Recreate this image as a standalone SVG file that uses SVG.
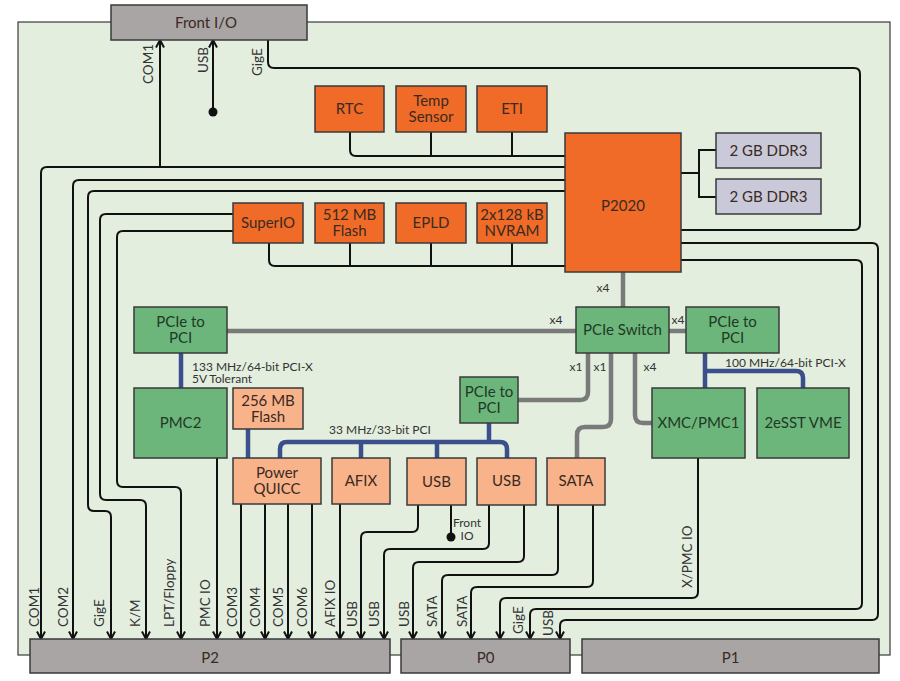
<svg xmlns="http://www.w3.org/2000/svg" width="900" height="681" viewBox="0 0 900 681">
<defs>
<style>
.bx{stroke:#3a3a3a;stroke-width:1.5}
.or{fill:#ef6b27}
.lo{fill:#f8b38b}
.gr{fill:#6cb57b}
.dd{fill:#c9c9d9}
.gy{fill:#a9a5a5}
.t{font-family:Lato,"Open Sans","Liberation Sans",sans-serif;font-size:15px;fill:#3a2a22;text-anchor:middle}
.tg{fill:#1f3a25}
.s{font-family:Lato,"Open Sans","Liberation Sans",sans-serif;font-size:13.5px;fill:#333}
.m{font-size:12px}
.w{fill:none;stroke:#111;stroke-width:2}
.p{fill:none;stroke:#7a7a7a;stroke-width:4.5}
.b{fill:none;stroke:#3b4f8c;stroke-width:4.5}
</style>
<marker id="arr" viewBox="0 0 10 10" refX="9" refY="5" markerWidth="10" markerHeight="10" markerUnits="userSpaceOnUse" orient="auto">
<path d="M1.5,1 L9,5 L1.5,9" fill="none" stroke="#111" stroke-width="2"/>
</marker>
</defs>
<rect x="0" y="0" width="900" height="681" fill="#ffffff"/>
<rect x="18" y="22" width="872" height="633" fill="#e3eedf" stroke="#3a3a3a" stroke-width="1.2"/>

<g id="connectors">
<path class="w" d="M565,167 H47 Q41,167 41,173 V639" marker-end="url(#arr)"/>
<path class="w" d="M160,167 V40" marker-end="url(#arr)"/>
<path class="w" d="M213,112 V40" marker-end="url(#arr)"/>
<circle cx="213" cy="112" r="4.5" fill="#111"/>
<path class="w" d="M268,40 V62 Q268,68 274,68 H854 Q860,68 860,74 V224 Q860,230 854,230 H681"/>
<path class="w" d="M565,180 H79 Q73,180 73,186 V639" marker-end="url(#arr)"/>
<path class="w" d="M565,191 H94 Q88,191 88,197 V505 Q88,511 94,511 H105 Q111,511 111,517 V639" marker-end="url(#arr)"/>
<path class="w" d="M233,214 H106 Q100,214 100,220 V494 Q100,500 106,500 H140 Q146,500 146,506 V639" marker-end="url(#arr)"/>
<path class="w" d="M233,231 H123 Q117,231 117,237 V481 Q117,487 123,487 H175 Q181,487 181,493 V639" marker-end="url(#arr)"/>
<path class="w" d="M217,458 V639" marker-end="url(#arr)"/>
<path class="w" d="M241,504 V639" marker-end="url(#arr)"/>
<path class="w" d="M265,504 V639" marker-end="url(#arr)"/>
<path class="w" d="M288,504 V639" marker-end="url(#arr)"/>
<path class="w" d="M312,504 V639" marker-end="url(#arr)"/>
<path class="w" d="M340,504 V639" marker-end="url(#arr)"/>
<path class="w" d="M418,505 V526 Q418,532 412,532 H367 Q361,532 361,538 V639" marker-end="url(#arr)"/>
<path class="w" d="M451,505 V537"/>
<circle cx="451" cy="537" r="4.5" fill="#111"/>
<path class="w" d="M489,505 V543 Q489,549 483,549 H390 Q384,549 384,555 V639" marker-end="url(#arr)"/>
<path class="w" d="M524,505 V556 Q524,562 518,562 H419 Q413,562 413,568 V639" marker-end="url(#arr)"/>
<path class="w" d="M558,505 V569 Q558,575 552,575 H448 Q442,575 442,581 V639" marker-end="url(#arr)"/>
<path class="w" d="M593,505 V581 Q593,587 587,587 H477 Q471,587 471,593 V639" marker-end="url(#arr)"/>
<path class="w" d="M698,458 V592 Q698,598 692,598 H506 Q500,598 500,604 V639" marker-end="url(#arr)"/>
<path class="w" d="M681,260 H856 Q862,260 862,266 V603 Q862,609 856,609 H536 Q530,609 530,615 V639" marker-end="url(#arr)"/>
<path class="w" d="M681,243 H872 Q878,243 878,249 V614 Q878,620 872,620 H566 Q560,620 560,626 V639" marker-end="url(#arr)"/>
<path class="w" d="M350,132 V150 Q350,156 356,156 H565 M431,132 V156 M512,132 V156"/>
<path class="w" d="M269,243 V260 Q269,266 275,266 H565 M350,243 V266 M431,243 V266 M512,243 V266"/>
<path class="w" d="M681,173 H699 M716,150 H699 V197 H716"/>
<path class="p" d="M623,272 V307"/>
<path class="p" d="M227,331 H576"/>
<path class="p" d="M669,331 H686"/>
<path class="p" d="M588,353 V392 Q588,400 580,400 H518"/>
<path class="p" d="M611,353 V419 Q611,427 603,427 H585 Q577,427 577,435 V458"/>
<path class="p" d="M635,353 V415 Q635,423 643,423 H652"/>
<path class="b" d="M181,353 V388"/>
<path class="b" d="M248,429 V458"/>
<path class="b" d="M280,458 V449 Q280,442 287,442 H500 Q507,442 507,449 V458 M361,442 V458 M437,442 V458 M489,423 V442"/>
<path class="b" d="M705,353 V388 M705,371 H796 Q803,371 803,378 V388"/>
</g>

<g id="labels" class="s">
<text transform="translate(153,84) rotate(-90)">COM1</text>
<text transform="translate(208,73) rotate(-90)">USB</text>
<text transform="translate(262,76) rotate(-90)">GigE</text>
<text class="m" x="603" y="292" text-anchor="middle">x4</text>
<text class="m" x="556" y="324" text-anchor="middle">x4</text>
<text class="m" x="678" y="324" text-anchor="middle">x4</text>
<text class="m" x="576" y="371" text-anchor="middle">x1</text>
<text class="m" x="600" y="371" text-anchor="middle">x1</text>
<text class="m" x="650" y="371" text-anchor="middle">x4</text>
<text class="m" x="192" y="371">133 MHz/64-bit PCI-X<tspan x="192" dy="12">5V Tolerant</tspan></text>
<text class="m" x="329" y="434">33 MHz/33-bit PCI</text>
<text class="m" x="725" y="367">100 MHz/64-bit PCI-X</text>
<text class="m" x="467" y="527" text-anchor="middle">Front<tspan x="467" dy="13">IO</tspan></text>
<text transform="translate(692,588) rotate(-90)">X/PMC IO</text>
<text transform="translate(39,627) rotate(-90)">COM1</text>
<text transform="translate(68,627) rotate(-90)">COM2</text>
<text transform="translate(104,627) rotate(-90)">GigE</text>
<text transform="translate(140,627) rotate(-90)">K/M</text>
<text transform="translate(174,627) rotate(-90)">LPT/Floppy</text>
<text transform="translate(210,627) rotate(-90)">PMC IO</text>
<text transform="translate(237,627) rotate(-90)">COM3</text>
<text transform="translate(260,627) rotate(-90)">COM4</text>
<text transform="translate(283,627) rotate(-90)">COM5</text>
<text transform="translate(307,627) rotate(-90)">COM6</text>
<text transform="translate(335,627) rotate(-90)">AFIX IO</text>
<text transform="translate(357,627) rotate(-90)">USB</text>
<text transform="translate(379,627) rotate(-90)">USB</text>
<text transform="translate(409,627) rotate(-90)">USB</text>
<text transform="translate(437,627) rotate(-90)">SATA</text>
<text transform="translate(467,627) rotate(-90)">SATA</text>
<text transform="translate(523,634) rotate(-90)">GigE</text>
<text transform="translate(553,636) rotate(-90)">USB</text>
</g>

<g id="front-io"><rect class="bx gy" x="111" y="5" width="196" height="35"/><text class="t" x="206" y="28">Front I/O</text></g>
<g id="rtc"><rect class="bx or" x="315" y="86" width="69" height="46"/><text class="t" x="349.5" y="114">RTC</text></g>
<g id="temp"><rect class="bx or" x="396" y="86" width="70" height="46"/><text class="t" x="431" y="106">Temp<tspan x="431" dy="16">Sensor</tspan></text></g>
<g id="eti"><rect class="bx or" x="477" y="86" width="70" height="46"/><text class="t" x="512" y="114">ETI</text></g>
<g id="superio"><rect class="bx or" x="233" y="203" width="70" height="40"/><text class="t" x="268" y="228">SuperIO</text></g>
<g id="flash512"><rect class="bx or" x="315" y="203" width="69" height="40"/><text class="t" x="349.5" y="220">512 MB<tspan x="349.5" dy="16">Flash</tspan></text></g>
<g id="epld"><rect class="bx or" x="396" y="203" width="70" height="40"/><text class="t" x="431" y="228">EPLD</text></g>
<g id="nvram"><rect class="bx or" x="477" y="203" width="70" height="40"/><text class="t" x="512" y="220">2x128 kB<tspan x="512" dy="16">NVRAM</tspan></text></g>
<g id="p2020"><rect class="bx or" x="565" y="133" width="116" height="139"/><text class="t" x="623" y="211" font-size="16">P2020</text></g>
<g id="ddr3a"><rect class="bx dd" x="716" y="133" width="105" height="35"/><text class="t" x="768.5" y="156">2 GB DDR3</text></g>
<g id="ddr3b"><rect class="bx dd" x="716" y="179" width="105" height="35"/><text class="t" x="768.5" y="202">2 GB DDR3</text></g>
<g id="pcie-pci-left"><rect class="bx gr" x="134" y="307" width="93" height="46"/><text class="t tg" x="180.5" y="327">PCIe to<tspan x="180.5" dy="16">PCI</tspan></text></g>
<g id="pcie-switch"><rect class="bx gr" x="576" y="307" width="93" height="46"/><text class="t tg" x="622.5" y="335">PCIe Switch</text></g>
<g id="pcie-pci-right"><rect class="bx gr" x="686" y="307" width="93" height="46"/><text class="t tg" x="732.5" y="327">PCIe to<tspan x="732.5" dy="16">PCI</tspan></text></g>
<g id="pmc2"><rect class="bx gr" x="134" y="388" width="93" height="70"/><text class="t tg" x="180.5" y="428">PMC2</text></g>
<g id="flash256"><rect class="bx lo" x="233" y="388" width="70" height="41"/><text class="t" x="268" y="406">256 MB<tspan x="268" dy="16">Flash</tspan></text></g>
<g id="pcie-pci-mid"><rect class="bx gr" x="460" y="377" width="58" height="46"/><text class="t tg" x="489" y="397">PCIe to<tspan x="489" dy="16">PCI</tspan></text></g>
<g id="xmc"><rect class="bx gr" x="652" y="388" width="93" height="70"/><text class="t tg" x="698.5" y="428">XMC/PMC1</text></g>
<g id="vme"><rect class="bx gr" x="757" y="388" width="92" height="70"/><text class="t tg" x="803" y="428">2eSST VME</text></g>
<g id="powerquicc"><rect class="bx lo" x="233" y="458" width="88" height="46"/><text class="t" x="277" y="478">Power<tspan x="277" dy="16">QUICC</tspan></text></g>
<g id="afix"><rect class="bx lo" x="332" y="458" width="58" height="46"/><text class="t" x="361" y="486">AFIX</text></g>
<g id="usb1"><rect class="bx lo" x="407" y="458" width="59" height="47"/><text class="t" x="436.5" y="487">USB</text></g>
<g id="usb2"><rect class="bx lo" x="477" y="458" width="59" height="47"/><text class="t" x="506.5" y="486">USB</text></g>
<g id="sata"><rect class="bx lo" x="547" y="458" width="58" height="47"/><text class="t" x="576" y="486">SATA</text></g>
<g id="p2"><rect class="bx gy" x="30" y="639" width="360" height="34"/><text class="t" x="210" y="663" font-size="20">P2</text></g>
<g id="p0"><rect class="bx gy" x="401" y="639" width="169" height="34"/><text class="t" x="485.5" y="663" font-size="20">P0</text></g>
<g id="p1"><rect class="bx gy" x="582" y="639" width="297" height="34"/><text class="t" x="730.5" y="663" font-size="20">P1</text></g>
</svg>
